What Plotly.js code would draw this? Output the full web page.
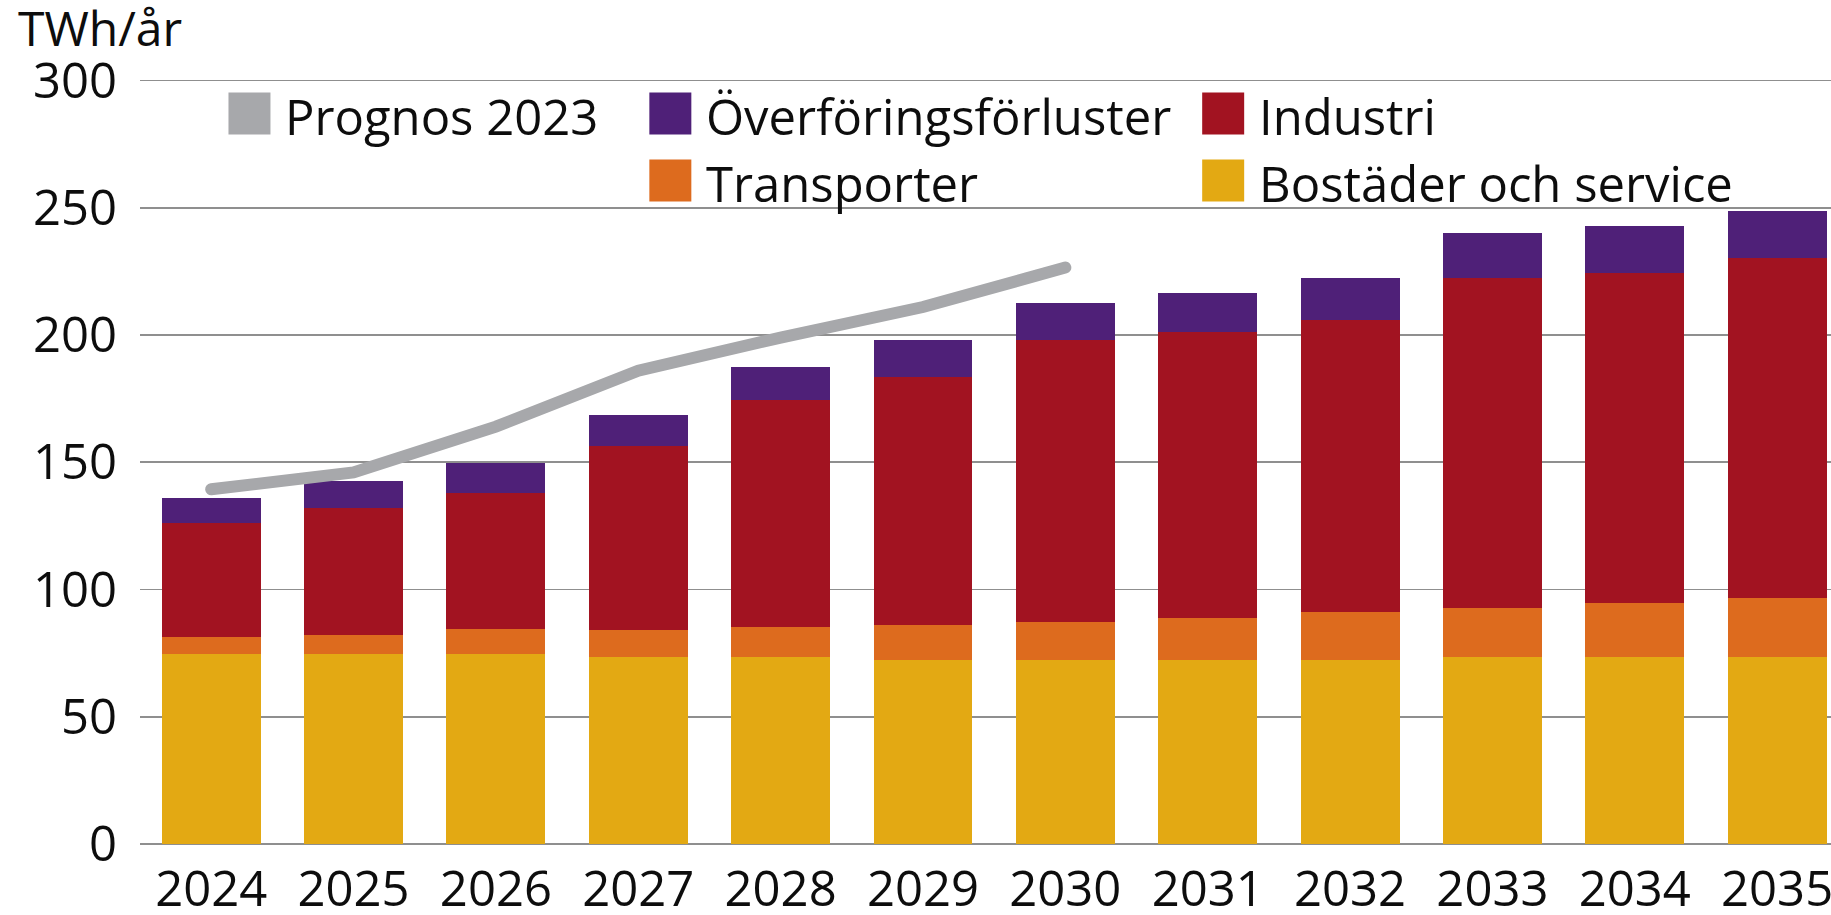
<!DOCTYPE html>
<html>
<head>
<meta charset="utf-8">
<script src="https://cdn.plot.ly/plotly-3.0.1.min.js"></script>
<style>
  html, body { margin: 0; padding: 0; background: #ffffff; overflow: hidden; }
  #chart { width: 1831px; height: 915px; }
  .scatterlayer path.js-line { stroke-linecap: round; }
</style>
</head>
<body>
<div id="chart"></div>
<script>
// ---- data ----
const years = ["2024","2025","2026","2027","2028","2029","2030","2031","2032","2033","2034","2035"];
const bostader = [74.5, 74.5, 74.5, 73.5, 73.5, 72.5, 72.5, 72.5, 72.5, 73.5, 73.5, 73.5];
const transporter = [7, 7.7, 9.8, 10.7, 11.6, 13.7, 14.7, 16.5, 18.5, 19.4, 21.3, 23.2];
const industri = [44.7, 49.7, 53.5, 72.1, 89.5, 97.4, 110.8, 112.1, 114.9, 129.4, 129.5, 133.5];
const forluster = [9.9, 10.7, 11.8, 12.3, 12.7, 14.4, 14.7, 15.6, 16.6, 17.6, 18.4, 18.4];
const prognos = [139.4, 146, 164, 186, 199, 211, 226.5, null, null, null, null, null];

const yTicks = [0, 50, 100, 150, 200, 250, 300];
const yUnit = "TWh/år";

const seriesNames = ["Prognos 2023", "Överföringsförluster", "Industri", "Transporter", "Bostäder och service"];
const seriesColors = ["#a7a8ab", "#4f2078", "#a21321", "#dd6b1e", "#e3a913"];

// ---- layout geometry (pixels) ----
const W = 1831, H = 915;
const pxPerUnit = 763.3 / 300;
const yMax = 301;
const mL = 139.5, mR = 0, mB = 71;
const mT = 81 - (yMax - 300) * pxPerUnit;
const plotW = W - mL - mR, plotH = H - mT - mB;
const FONT = "Open Sans, Noto Sans, sans-serif";
const FS = 49;
const TXT = "#0d0d0d";

function px2paperX(px) { return (px - mL) / plotW; }
function px2paperY(py) { return (H - mB - py) / plotH; }

const traces = [
  { type: "bar", x: years, y: bostader, name: seriesNames[4], marker: { color: seriesColors[4] } },
  { type: "bar", x: years, y: transporter, name: seriesNames[3], marker: { color: seriesColors[3] } },
  { type: "bar", x: years, y: industri, name: seriesNames[2], marker: { color: seriesColors[2] } },
  { type: "bar", x: years, y: forluster, name: seriesNames[1], marker: { color: seriesColors[1] } },
  { type: "scatter", mode: "lines", x: years, y: prognos, name: seriesNames[0],
    line: { color: seriesColors[0], width: 12 }, connectgaps: false }
];

// manual legend (grid with an empty slot under "Prognos 2023")
const legendSlots = [
  { i: 0, sx: 228, row: 0 },
  { i: 1, sx: 649, row: 0 },
  { i: 2, sx: 1202, row: 0 },
  { i: 3, sx: 649, row: 1 },
  { i: 4, sx: 1202, row: 1 }
];
const rowCenters = [114, 181];
const sw = 42;
const shapes = [];
const annotations = [];
legendSlots.forEach(s => {
  const cy = rowCenters[s.row];
  shapes.push({
    type: "rect", xref: "paper", yref: "paper",
    x0: px2paperX(s.sx), x1: px2paperX(s.sx + sw),
    y0: px2paperY(cy + sw / 2), y1: px2paperY(cy - sw / 2),
    fillcolor: seriesColors[s.i], line: { width: 0 }, layer: "above"
  });
  annotations.push({
    xref: "paper", yref: "paper", x: px2paperX(s.sx + sw + 13), y: px2paperY(cy + 2),
    xanchor: "left", yanchor: "middle", showarrow: false,
    text: seriesNames[s.i], font: { family: FONT, size: FS, color: TXT }
  });
});
annotations.push({
  xref: "paper", yref: "paper", x: px2paperX(15), y: px2paperY(28),
  xanchor: "left", yanchor: "middle", showarrow: false,
  text: yUnit, font: { family: FONT, size: FS - 1, color: TXT }
});

const layout = {
  width: W, height: H,
  margin: { l: mL, r: mR, t: mT, b: mB, pad: 0 },
  paper_bgcolor: "#ffffff", plot_bgcolor: "#ffffff",
  barmode: "stack", bargap: 0.305,
  showlegend: false,
  font: { family: FONT, size: FS, color: TXT },
  xaxis: {
    type: "category", range: [-0.5, -0.5 + plotW / 142.4],
    showgrid: false, zeroline: false, showline: false, ticks: "",
    tickfont: { family: FONT, size: FS, color: TXT },
    ticklabelstandoff: 12, fixedrange: true
  },
  yaxis: {
    range: [0, yMax], tickvals: yTicks, ticktext: yTicks.map(String),
    showgrid: true, gridcolor: "#8f8f8f", gridwidth: 1.6,
    zeroline: true, zerolinecolor: "#8f8f8f", zerolinewidth: 1.6,
    showline: false, ticks: "",
    tickfont: { family: FONT, size: FS, color: TXT },
    ticklabelstandoff: 22, fixedrange: true
  },
  shapes: shapes,
  annotations: annotations
};

Plotly.newPlot("chart", traces, layout, { displayModeBar: false, staticPlot: true });
</script>
</body>
</html>
